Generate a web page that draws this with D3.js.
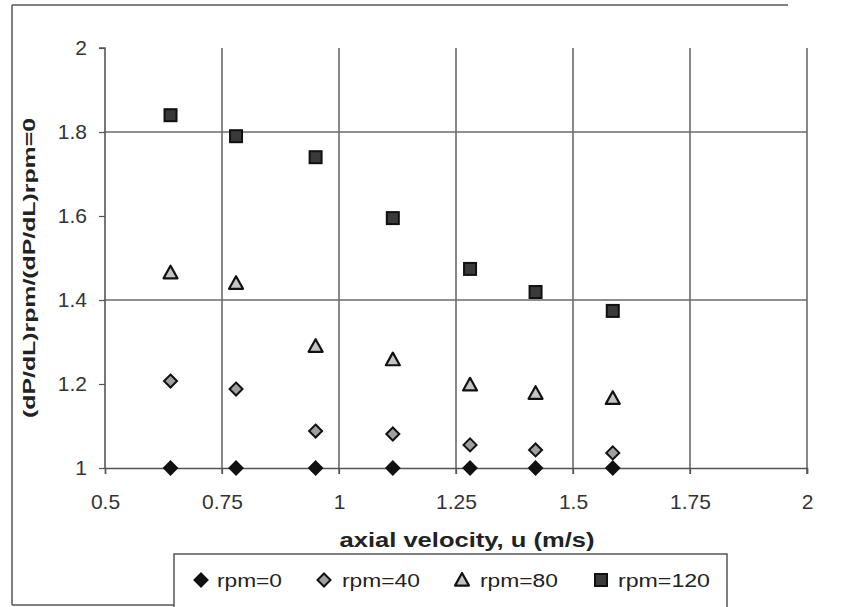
<!DOCTYPE html>
<html>
<head>
<meta charset="utf-8">
<script src="https://cdn.jsdelivr.net/npm/d3@7"></script>
<style>
  html, body { margin: 0; padding: 0; background: #fff; }
  svg { display: block; font-family: Arial, "Liberation Sans", sans-serif; }
</style>
</head>
<body>
<svg id="chart" width="843" height="607"></svg>
<script>
// Axial velocity (m/s) at which each pressure-gradient ratio was measured
const velocity = [0.64, 0.78, 0.95, 1.115, 1.28, 1.42, 1.585];

// Pressure-gradient ratio (dP/dL)rpm / (dP/dL)rpm=0 for each rotation speed
const rpm0   = [1.00, 1.00, 1.00, 1.00, 1.00, 1.00, 1.00];
const rpm40  = [1.207, 1.188, 1.088, 1.081, 1.055, 1.043, 1.036];
const rpm80  = [1.465, 1.440, 1.290, 1.258, 1.198, 1.178, 1.166];
const rpm120 = [1.840, 1.790, 1.740, 1.595, 1.474, 1.419, 1.374];

const xTicks = [0.5, 0.75, 1, 1.25, 1.5, 1.75, 2];
const yTicks = [1, 1.2, 1.4, 1.6, 1.8, 2];
const yGrid = [1.4, 1.8];

const seriesNames = ["rpm=0", "rpm=40", "rpm=80", "rpm=120"];

const svg = d3.select("#chart");
const plot = { left: 105, right: 807, top: 48, bottom: 468 };

const x = d3.scaleLinear().domain([0.5, 2]).range([plot.left, plot.right]);
const y = d3.scaleLinear().domain([1, 2]).range([plot.bottom, plot.top]);

// outer frame
const frame = svg.append("g").attr("stroke", "#555").attr("stroke-width", 1.5).attr("fill", "none");
frame.append("line").attr("x1", 12).attr("y1", 5).attr("x2", 788).attr("y2", 5);
frame.append("line").attr("x1", 12).attr("y1", 5).attr("x2", 12).attr("y2", 605);
frame.append("line").attr("x1", 12).attr("y1", 605).attr("x2", 174).attr("y2", 605);

// grid lines
const grid = svg.append("g").attr("stroke", "#6a6a6a").attr("stroke-width", 1.6);
grid.selectAll("line.v").data(xTicks.slice(1)).join("line")
  .attr("x1", d => x(d)).attr("x2", d => x(d))
  .attr("y1", plot.top).attr("y2", plot.bottom + 6);
grid.selectAll("line.h").data(yGrid).join("line")
  .attr("x1", plot.left).attr("x2", plot.right)
  .attr("y1", d => y(d)).attr("y2", d => y(d));

// axes
const xAxis = d3.axisBottom(x).tickValues(xTicks).tickSize(6).tickPadding(20)
  .tickFormat(d => String(d));
const gx = svg.append("g").attr("transform", `translate(0,${plot.bottom})`).call(xAxis);
const yAxis = d3.axisLeft(y).tickValues(yTicks).tickSize(6).tickPadding(12)
  .tickFormat(d => String(d));
const gy = svg.append("g").attr("transform", `translate(${plot.left},0)`).call(yAxis);
[gx, gy].forEach(g => {
  g.attr("font-size", null).attr("font-family", null);
  g.select(".domain").attr("stroke", "#555").attr("stroke-width", 1.6);
  g.selectAll(".tick line").attr("stroke", "#555").attr("stroke-width", 1.2);
  g.selectAll(".tick text").attr("fill", "#333")
    .style("font-size", "21px")
    .style("font-family", "Arial, 'Liberation Sans', sans-serif");
});
gy.select(".domain").attr("d", `M-6,${plot.top}H0V${plot.bottom}`);

// axis titles
svg.append("text")
  .attr("x", 467).attr("y", 547)
  .attr("text-anchor", "middle").style("font-size", "20px").attr("font-weight", "bold").attr("fill", "#222")
  .attr("textLength", 255).attr("lengthAdjust", "spacingAndGlyphs")
  .text("axial velocity, u (m/s)");
svg.append("text")
  .attr("transform", `translate(35,268) rotate(-90)`)
  .attr("text-anchor", "middle").style("font-size", "17px").attr("font-weight", "bold").attr("fill", "#222")
  .attr("textLength", 300).attr("lengthAdjust", "spacingAndGlyphs")
  .text("(dP/dL)rpm/(dP/dL)rpm=0");

// marker painters
function diamond(g, cx, cy, fill) {
  const s = 6.5;
  g.append("path")
    .attr("d", `M${cx},${cy - s}L${cx + s},${cy}L${cx},${cy + s}L${cx - s},${cy}Z`)
    .attr("fill", fill).attr("stroke", "#111").attr("stroke-width", 2);
}
function triangle(g, cx, cy) {
  const s = 7;
  g.append("path")
    .attr("d", `M${cx},${cy - s}L${cx + s},${cy + s * 0.8}L${cx - s},${cy + s * 0.8}Z`)
    .attr("fill", "#c4c4c4").attr("stroke", "#111").attr("stroke-width", 2.2).attr("stroke-linejoin", "round");
}
function square(g, cx, cy) {
  const s = 6;
  g.append("rect").attr("x", cx - s).attr("y", cy - s).attr("width", 2 * s).attr("height", 2 * s)
    .attr("fill", "#3a3a3a").attr("stroke", "#111").attr("stroke-width", 2);
}

const painters = [
  (g, cx, cy) => diamond(g, cx, cy, "#111"),
  (g, cx, cy) => diamond(g, cx, cy, "#a0a0a0"),
  (g, cx, cy) => triangle(g, cx, cy),
  (g, cx, cy) => square(g, cx, cy)
];
const seriesValues = [rpm0, rpm40, rpm80, rpm120];

const marks = svg.append("g");
seriesValues.forEach((vals, si) => {
  vals.forEach((v, i) => painters[si](marks, x(velocity[i]), y(v)));
});

// legend
const leg = svg.append("g");
leg.append("rect").attr("x", 174).attr("y", 554).attr("width", 553).attr("height", 60)
  .attr("fill", "#fff").attr("stroke", "#555").attr("stroke-width", 1.5);
const legendMarkX = [201, 324, 462, 601];
const legendTextX = [217, 342, 480, 618];
const legendTextW = [65, 78, 78, 92];
seriesNames.forEach((name, i) => {
  painters[i](leg, legendMarkX[i], 580);
  leg.append("text").attr("x", legendTextX[i]).attr("y", 587)
    .style("font-size", "18px").attr("fill", "#222")
    .attr("textLength", legendTextW[i]).attr("lengthAdjust", "spacingAndGlyphs")
    .text(name);
});
</script>
</body>
</html>
